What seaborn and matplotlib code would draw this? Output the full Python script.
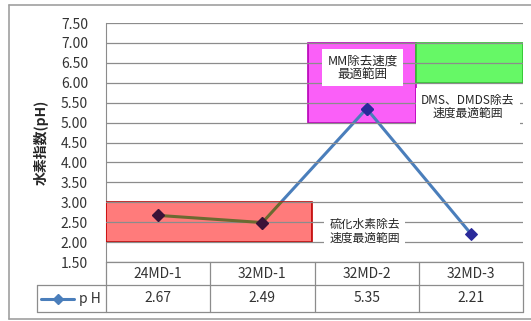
import matplotlib
matplotlib.use("Agg")
from matplotlib import pyplot as plt
from matplotlib.patches import Rectangle
from matplotlib.lines import Line2D
import seaborn as sns
import pandas as pd

# data
samples = ["24MD-1", "32MD-1", "32MD-2", "32MD-3"]
ph = [2.67, 2.49, 5.35, 2.21]
series_name = "pH"
y_ticks = [1.5, 2.0, 2.5, 3.0, 3.5, 4.0, 4.5, 5.0, 5.5, 6.0, 6.5, 7.0, 7.5]
ylabel = "水素指数(pH)"

# optimal ranges: (label, y low, y high)
h2s_range = ("硫化水素除去\n速度最適範囲", 2.0, 3.0)
mm_range = ("MM除去速度\n最適範囲", 5.0, 7.0)
dms_range = ("DMS、DMDS除去\n速度最適範囲", 6.0, 7.0)

sns.set_style("white")
plt.rcParams["font.family"] = ["Noto Sans CJK JP", "DejaVu Sans"]

W, H = 531, 321
fig = plt.figure(figsize=(W / 100, H / 100), dpi=100)
x0, x1, ytop, ybot = 106, 523, 23, 262
ax = fig.add_axes([x0 / W, 1 - ybot / H, (x1 - x0) / W, (ybot - ytop) / H])

df = pd.DataFrame({"sample": samples, "ph": ph, "pos": range(len(samples))})

# range boxes
red = Rectangle((-0.5, h2s_range[1]), 1.976, h2s_range[2] - h2s_range[1],
                facecolor="#ff7b7b", edgecolor="#c00000", lw=1.2, zorder=3)
mag = Rectangle((1.44, mm_range[1]), 1.03, mm_range[2] - mm_range[1],
                facecolor="#fa5ff8", edgecolor="#b800b8", lw=1.2, zorder=1)
grn = Rectangle((2.47, dms_range[1]), 1.03, dms_range[2] - dms_range[1],
                facecolor="#66f866", edgecolor="#30c030", lw=1.2, zorder=1)
for r in (red, mag, grn):
    ax.add_patch(r)

# gridlines over boxes
for t in y_ticks:
    ax.axhline(t, color="#8c8c8c", lw=0.9, zorder=4)

sns.lineplot(data=df, x="pos", y="ph", ax=ax, color="#4a7ebb", lw=2.2,
             marker="D", markersize=6, markerfacecolor="#2a2a9a",
             markeredgecolor="#2a2a9a", zorder=2)
# line seen through the red box
olive = ax.plot(df["pos"], df["ph"], color="#6b6a30", lw=2.2, marker="D",
                markersize=6, markerfacecolor="#3a1238", markeredgecolor="#3a1238",
                zorder=5)[0]
olive.set_clip_path(red)
ax.plot(df["pos"][2:3], df["ph"][2:3], ls="none", marker="D", markersize=6,
        color="#2a2a9a", zorder=6)

# range labels
lbl = dict(ha="center", va="center", linespacing=1.0, zorder=7,
           bbox=dict(facecolor="white", edgecolor="none", pad=4))
ax.text(1.96, 6.38, mm_range[0], fontsize=9, **lbl)
ax.text(2.97, 5.39, dms_range[0], fontsize=8.5, **lbl)
ax.text(1.98, 2.27, h2s_range[0], fontsize=8.5, **lbl)

ax.set_xlim(-0.5, 3.5)
ax.set_ylim(1.5, 7.5)
ax.set_yticks(y_ticks)
ax.set_yticklabels([f"{t:.2f}" for t in y_ticks], fontsize=10, color="#333333")
ax.set_xticks([])
ax.set_xlabel("")
ax.set_ylabel(ylabel, fontsize=10, fontweight="bold", labelpad=9)
ax.tick_params(axis="y", length=0, pad=13)
for s in ("top", "right", "bottom"):
    ax.spines[s].set_visible(False)
ax.spines["left"].set_color("#8c8c8c")

# data table below the axes (figure pixel coords)
def fx(px):
    return px / W

def fy(py):
    return 1 - py / H

tc = "#8c8c8c"
r0, r1, r2 = 262, 285, 312
col_w = (x1 - x0) / len(samples)
fig.add_artist(Line2D([fx(x0), fx(x1)], [fy(r0), fy(r0)], color=tc, lw=0.9))
fig.add_artist(Line2D([fx(37), fx(x1)], [fy(r1), fy(r1)], color=tc, lw=0.9))
fig.add_artist(Line2D([fx(37), fx(x1)], [fy(r2), fy(r2)], color=tc, lw=0.9))
fig.add_artist(Line2D([fx(37), fx(37)], [fy(r1), fy(r2)], color=tc, lw=0.9))
for i in range(len(samples) + 1):
    xx = x0 + i * col_w
    fig.add_artist(Line2D([fx(xx), fx(xx)], [fy(r0), fy(r2)], color=tc, lw=0.9))
for i, (s, v) in enumerate(zip(samples, ph)):
    cx = x0 + (i + 0.5) * col_w
    fig.text(fx(cx), fy((r0 + r1) / 2), s, ha="center", va="center", fontsize=10,
             color="#333333")
    fig.text(fx(cx), fy((r1 + r2) / 2), f"{v:.2f}", ha="center", va="center",
             fontsize=10, color="#333333")

# legend key in table
fig.add_artist(Line2D([fx(41), fx(74)], [fy(298.5), fy(298.5)], color="#4a7ebb", lw=2.2))
fig.add_artist(Line2D([fx(57.5)], [fy(298.5)], ls="none", marker="D", markersize=5,
                      color="#4a7ebb"))
fig.text(fx(79), fy(298.5), "p H", ha="left", va="center", fontsize=10, color="#333333")

# outer border
fig.add_artist(Line2D([fx(9), fx(535)], [fy(5), fy(5)], color="#a0a0a0", lw=1.2))
fig.add_artist(Line2D([fx(9), fx(9)], [fy(5), fy(319)], color="#a0a0a0", lw=1.2))
fig.add_artist(Line2D([fx(9), fx(535)], [fy(319), fy(319)], color="#a0a0a0", lw=1.2))

fig.savefig("out.png", dpi=100)
